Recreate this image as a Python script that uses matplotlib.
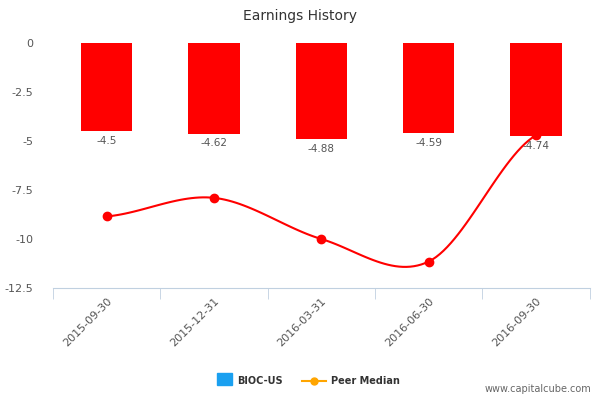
import numpy as np
import matplotlib
matplotlib.use("Agg")
import matplotlib.pyplot as plt

categories = ["2015-09-30", "2015-12-31", "2016-03-31", "2016-06-30", "2016-09-30"]
bioc = [-4.5, -4.62, -4.88, -4.59, -4.74]
peer = [-8.85, -7.9, -10.0, -11.15, -4.7]
yticks = [0, -2.5, -5, -7.5, -10, -12.5]

fig = plt.figure(figsize=(6, 4), dpi=100)
ax = fig.add_axes([0.088, 0.28, 0.895, 0.6125])
x = np.arange(len(categories))

ax.bar(x, bioc, width=0.48, color="#ff0000", clip_on=False, zorder=2)
for xi, v in zip(x, bioc):
    ax.text(xi, v - 0.25, f"{v:g}", ha="center", va="top", fontsize=7.5, color="#555555", zorder=4)

# smooth spline-like path through the peer points (Catmull-Rom)
px = np.concatenate([[x[0] - (x[1] - x[0])], x, [x[-1] + 1]]).astype(float)
py = np.concatenate([[peer[0]], peer, [peer[-1]]])
sx, sy = [], []
for i in range(1, len(px) - 2):
    t = np.linspace(0, 1, 30)
    for arr, out in ((px, sx), (py, sy)):
        p0, p1, p2, p3 = arr[i - 1], arr[i], arr[i + 1], arr[i + 2]
        out.extend(0.5 * (2 * p1 + (-p0 + p2) * t + (2 * p0 - 5 * p1 + 4 * p2 - p3) * t ** 2
                          + (-p0 + 3 * p1 - 3 * p2 + p3) * t ** 3))
ax.plot(sx, sy, color="#ff0000", lw=1.5, zorder=3)
ax.plot(x, peer, "o", color="#ff0000", ms=6, zorder=3)

ax.set_xlim(-0.5, len(categories) - 0.5)
ax.set_ylim(-12.5, 0)
ax.set_yticks(yticks)
ax.set_yticklabels([f"{t:g}" for t in yticks], fontsize=8, color="#555555")
ax.tick_params(axis="y", length=0, pad=14)
ax.set_xticks(x)
ax.set_xticklabels(categories, rotation=45, ha="right", rotation_mode="anchor", fontsize=8, color="#555555")
ax.set_xticks(np.arange(len(categories) + 1) - 0.5, minor=True)
ax.tick_params(axis="x", which="major", length=0, pad=6)
ax.tick_params(axis="x", which="minor", length=8, color="#c0d0e0")
for s in ["top", "right", "left"]:
    ax.spines[s].set_visible(False)
ax.spines["bottom"].set_color("#c0d0e0")

fig.text(0.5, 0.96, "Earnings History", ha="center", va="center", fontsize=10, color="#333333")

# legend
fig.patches.append(plt.Rectangle((0.362, 0.037), 0.025, 0.03, transform=fig.transFigure, color="#1aa0f0"))
fig.text(0.395, 0.048, "BIOC-US", fontsize=7, fontweight="bold", color="#333333", va="center")
fig.lines.append(plt.Line2D([0.503, 0.543], [0.048, 0.048], transform=fig.transFigure, color="#ffa500", lw=1.5))
fig.lines.append(plt.Line2D([0.523], [0.048], transform=fig.transFigure, color="#ffa500", marker="o", ms=5))
fig.text(0.552, 0.048, "Peer Median", fontsize=7, fontweight="bold", color="#333333", va="center")
fig.text(0.985, 0.02, "www.capitalcube.com", ha="right", fontsize=7, color="#666666")

fig.savefig("out.png", dpi=100)
